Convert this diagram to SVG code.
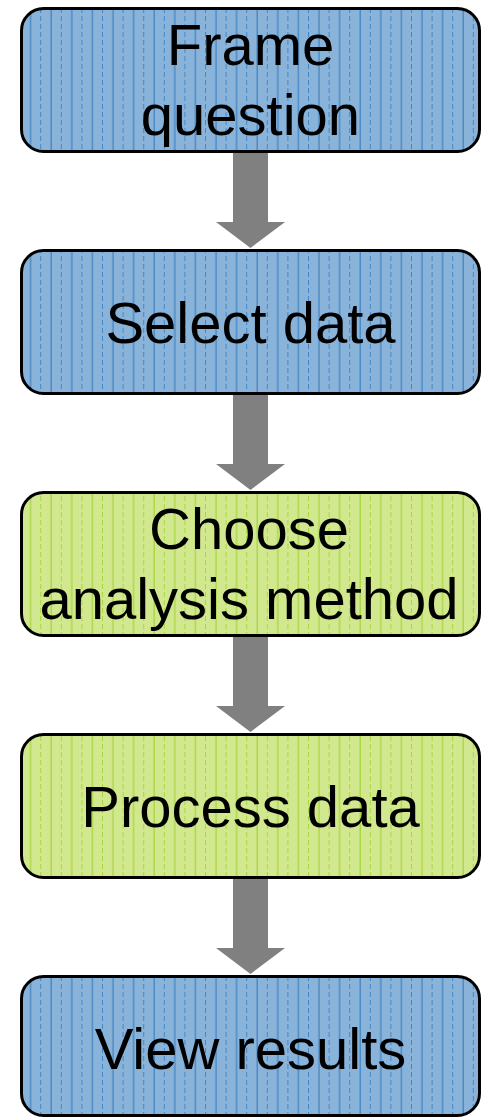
<svg xmlns="http://www.w3.org/2000/svg" width="485" height="1118" viewBox="0 0 485 1118">
<style>
.box{stroke:#000;stroke-width:3}
.blue{fill:url(#pb)}
.green{fill:url(#pg)}
.t{font-family:"Liberation Sans",Arial,sans-serif;font-size:58px;fill:#000;text-anchor:middle}
.arr{fill:#808080}
</style>
<defs>
<pattern id="pb" patternUnits="userSpaceOnUse" x="0" y="0" width="20.6" height="8">
<rect width="20.6" height="8" fill="#8ab3d9"/>
<line x1="10" y1="0" x2="10" y2="8" stroke="#3c82c4" stroke-width="1.2"/>
<line x1="20.3" y1="0" x2="20.3" y2="8" stroke="#3c82c4" stroke-width="1.2" stroke-dasharray="5 3"/>
</pattern>
<pattern id="pg" patternUnits="userSpaceOnUse" x="0" y="0" width="20.6" height="8">
<rect width="20.6" height="8" fill="#d2e88e"/>
<line x1="10" y1="0" x2="10" y2="8" stroke="#a6d43c" stroke-width="1.2"/>
<line x1="20.3" y1="0" x2="20.3" y2="8" stroke="#a6d43c" stroke-width="1.2" stroke-dasharray="5 3"/>
</pattern>
</defs>
<g id="connectors">
<polygon class="arr" points="233,152 268,152 268,222 285,222 250.5,248 216,222 233,222"/>
<polygon class="arr" points="233,394 268,394 268,464 285,464 250.5,490 216,464 233,464"/>
<polygon class="arr" points="233,636 268,636 268,706 285,706 250.5,732 216,706 233,706"/>
<polygon class="arr" points="233,878 268,878 268,948 285,948 250.5,974 216,948 233,948"/>
</g>
<g id="n1">
<rect class="box blue" x="21.5" y="8.5" width="458" height="143" rx="22"/>
<text class="t" x="250.5" y="65">Frame</text>
<text class="t" x="250.5" y="135">question</text>
</g>
<g id="n2">
<rect class="box blue" x="21.5" y="250.5" width="458" height="143" rx="22"/>
<text class="t" x="250.5" y="343">Select data</text>
</g>
<g id="n3">
<rect class="box green" x="21.5" y="492.5" width="458" height="143" rx="22"/>
<text class="t" x="249" y="549">Choose</text>
<text class="t" x="249" y="619">analysis method</text>
</g>
<g id="n4">
<rect class="box green" x="21.5" y="734.5" width="458" height="143" rx="22"/>
<text class="t" x="250.5" y="827">Process data</text>
</g>
<g id="n5">
<rect class="box blue" x="21.5" y="976.5" width="458" height="139" rx="22"/>
<text class="t" x="250.5" y="1069">View results</text>
</g>
</svg>
